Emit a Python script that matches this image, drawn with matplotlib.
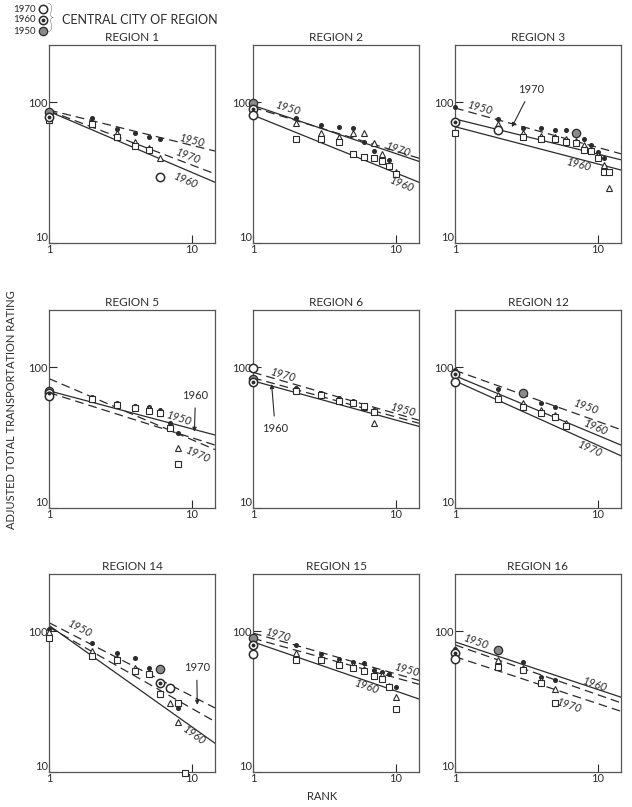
import matplotlib.pyplot as plt
import numpy as np

plt.rcParams['font.family'] = ['Lato', 'DejaVu Sans']

# ratings: one value per rank and census year (nan = no point)
r1_rank = [1, 2, 3, 4, 5, 6]
r1_1950 = [85, 77, 65, 60, 57, 55]
r1_1960 = [78, 70, 60, 52, 47, 40]
r1_1970 = [75, 70, 57, 49, 46, 29.5]
r1_fit = [[88, 45], [86, 27], [87, 31]]      # fitted line at rank 1 and at the right edge: 1950, 1960, 1970
r1_cc = [1, 1, 6]                            # rank held by the central city in 1950, 1960, 1970

r2_rank = [1, 2, 3, 4, 5, 6, 7, 8, 9, 10]
r2_1950 = [98, 77, 69, 67, 66, 52, 45, 40, 38.7, np.nan]
r2_1960 = [90, 71, 60, 57, 60, 60, 51, 43, 36, 32]
r2_1970 = [81, 55, 55, 52, 43, 41, 40, 38, 35, 31]
r2_fit = [[92, 40], [81, 27], [95, 38]]
r2_cc = [1, 1, 1]

r3_rank = [1, 2, 3, 4, 5, 6, 7, 8, 9, 10, 11, 12]
r3_1950 = [92, 76, 66, 66, 64, 64, 60, 55, 50, 44, 40, np.nan]
r3_1960 = [72, 70, 60, 58, 57, 55, 53, 50, 46, 42, 36, 24.5]
r3_1970 = [60, 63.5, 57, 55, 55, 52.5, 51, 46, 45, 40, 32, 32]
r3_fit = [[91, 43], [67, 33], [76, 39]]
r3_cc = [7, 1, 2]

r5_rank = [1, 2, 3, 4, 5, 6, 7, 8]
r5_1950 = [68, 61, 56, 53, 52, 50, 40, 34]
r5_1960 = [66, 60, 55, 52, 51, 48, 38, 26.5]
r5_1970 = [62, 59, 54, 51, 49, 47, 37, 20.6]
r5_fit = [[66, 28], [68, 33], [83, 26]]
r5_cc = [1, 1, 1]

r6_rank = [1, 2, 3, 4, 5, 6, 7]
r6_1950 = [82, 71, 66, 60, 58, 54, 50]
r6_1960 = [78, 70, 65, 59, 57, 52, 40]
r6_1970 = [98, 68, 64, 58, 56, 53, 48]
r6_fit = [[84, 40], [80, 38], [92, 42]]
r6_cc = [1, 1, 1]

r12_rank = [1, 2, 3, 4, 5, 6]
r12_1950 = [95, 70, 66, 56, 52, np.nan]
r12_1960 = [90, 64, 56, 50, 46, 40]
r12_1970 = [78, 59, 52, 47, 44, 38]
r12_fit = [[95, 36], [87, 28], [80, 23.5]]
r12_cc = [3, 1, 1]

r14_rank = [1, 2, 3, 4, 5, 6, 7, 8, 9]
r14_1950 = [104, 83, 70, 65, 55, 54, 40, 28.5, np.nan]
r14_1960 = [98, 72, 65, 55, 51, 43, 31, 22.8, np.nan]
r14_1970 = [90, 67, 62, 52, 50, 36, 39.6, 31, 9.8]
r14_fit = [[115, 28.5], [110, 16], [107, 22.8]]
r14_cc = [6, 6, 7]

r15_rank = [1, 2, 3, 4, 5, 6, 7, 8, 9, 10]
r15_1950 = [89, 80, 69, 64, 60, 59, 53, 51, 50, 40]
r15_1960 = [80, 70, 64, 60, 58, 54, 50, 49, 41, 34]
r15_1970 = [69, 62, 62, 58, 55, 52, 48, 46, 40, 28]
r15_fit = [[89, 42], [84, 33], [97, 44.7]]
r15_cc = [1, 1, 1]

r16_rank = [1, 2, 3, 4, 5]
r16_1950 = [75, 73, 60, 47, 45]
r16_1960 = [70, 62, 55, 45, 39]
r16_1970 = [64, 56, 53, 43, 31]
r16_fit = [[80, 31], [84, 34], [66, 27]]
r16_cc = [2, 1, 1]

years = ['1950', '1960', '1970']
titles = ['REGION 1', 'REGION 2', 'REGION 3', 'REGION 5', 'REGION 6',
          'REGION 12', 'REGION 14', 'REGION 15', 'REGION 16']

# where the year labels sit on each panel (x, y); arrow labels also give the arrow tip
r1_lab = [('1950', 10, 53), ('1970', 9.4, 41.6), ('1960', 9.1, 27.5)]
r2_lab = [('1950', 1.76, 90), ('1970', 10.4, 45.6), ('1960', 11.0, 26)]
r3_lab = [('1950', 1.5, 91), ('1960', 7.4, 35.8), ('1970', 3.4, 123, 2.5, 66.6)]
r5_lab = [('1950', 8.1, 43), ('1970', 11, 23.8), ('1960', 10.6, 63, 10.4, 34.8)]
r6_lab = [('1970', 1.63, 88), ('1950', 11.3, 49.5), ('1960', 1.43, 36.7, 1.35, 76)]
r12_lab = [('1950', 8.3, 51.8), ('1960', 9.7, 37), ('1970', 8.8, 26)]
r14_lab = [('1950', 1.66, 104), ('1960', 10.3, 18.3), ('1970', 10.8, 55, 10.9, 30)]
r15_lab = [('1970', 1.5, 94), ('1950', 12.1, 52.7), ('1960', 6.3, 40)]
r16_lab = [('1950', 1.42, 84), ('1960', 9.5, 42), ('1970', 6.3, 29.6)]

regions = [
    (r1_rank, [r1_1950, r1_1960, r1_1970], r1_fit, r1_cc, r1_lab),
    (r2_rank, [r2_1950, r2_1960, r2_1970], r2_fit, r2_cc, r2_lab),
    (r3_rank, [r3_1950, r3_1960, r3_1970], r3_fit, r3_cc, r3_lab),
    (r5_rank, [r5_1950, r5_1960, r5_1970], r5_fit, r5_cc, r5_lab),
    (r6_rank, [r6_1950, r6_1960, r6_1970], r6_fit, r6_cc, r6_lab),
    (r12_rank, [r12_1950, r12_1960, r12_1970], r12_fit, r12_cc, r12_lab),
    (r14_rank, [r14_1950, r14_1960, r14_1970], r14_fit, r14_cc, r14_lab),
    (r15_rank, [r15_1950, r15_1960, r15_1970], r15_fit, r15_cc, r15_lab),
    (r16_rank, [r16_1950, r16_1960, r16_1970], r16_fit, r16_cc, r16_lab),
]

ink = '#2b2b2b'
XMAX = 14.5
YMAX = 255
dash = (0, (7, 4))
line_style = {'1950': dash, '1960': '-', '1970': dash}
solid_1970 = ['REGION 2', 'REGION 3', 'REGION 12']
point_style = {
    '1950': dict(marker='o', ms=2.6, mfc=ink, mec=ink),
    '1960': dict(marker='^', ms=4.5, mfc='white', mec=ink, mew=0.8),
    '1970': dict(marker='s', ms=4, mfc='white', mec=ink, mew=0.8),
}


def central_city(ax, x, y, year):
    if year == '1950':
        ax.plot(x, y, 'o', ms=6, mfc='#8a8a8a', mec=ink, mew=0.9, clip_on=False, zorder=4)
    else:
        ax.plot(x, y, 'o', ms=6, mfc='white', mec=ink, mew=1.1, clip_on=False, zorder=4)
        if year == '1960':
            ax.plot(x, y, 'o', ms=1.8, color=ink, clip_on=False, zorder=5)


fig = plt.figure(figsize=(6.32, 8.07), dpi=100)
lefts = [49, 253, 455]
tops = [45, 310, 574]
W, H = 166, 198

for i, (rank, vals, fit, cc, labs) in enumerate(regions):
    row, col = divmod(i, 3)
    ax = fig.add_axes([lefts[col] / 632, 1 - (tops[row] + H) / 807, W / 632, H / 807])
    ax.set_xscale('log')
    ax.set_yscale('log')
    ax.set_xlim(1, XMAX)
    ax.set_ylim(10, YMAX)

    for k, yr in enumerate(years):
        ls = line_style[yr]
        if yr == '1970' and titles[i] in solid_1970:
            ls = '-'
        ax.plot([1, XMAX], fit[k], ls=ls, color=ink, lw=0.9)
        for r, v in zip(rank, vals[k]):
            if np.isnan(v):
                continue
            if r == cc[k]:
                central_city(ax, r, v, yr)
            else:
                ax.plot(r, v, ls='none', clip_on=False, zorder=3, **point_style[yr])

    for lab in labs:
        yr = lab[0]
        if len(lab) == 5:
            ax.annotate(yr, xy=(lab[3], lab[4]), xytext=(lab[1], lab[2]), ha='center', va='center',
                        fontsize=8, color=ink,
                        arrowprops=dict(arrowstyle='-|>', color=ink, lw=0.8, mutation_scale=6,
                                        shrinkA=3, shrinkB=0))
        else:
            k = years.index(yr)
            p0 = ax.transData.transform((1, fit[k][0]))
            p1 = ax.transData.transform((XMAX, fit[k][1]))
            ang = np.degrees(np.arctan2(p1[1] - p0[1], p1[0] - p0[0]))
            ax.text(lab[1], lab[2], yr, ha='center', va='center', fontsize=8, color=ink,
                    style='italic', rotation=ang, rotation_mode='anchor')

    ax.set_xticks([1, 10])
    ax.set_xticklabels(['1', '10'])
    ax.set_yticks([10, 100])
    ax.set_yticklabels(['10', '100'])
    ax.minorticks_off()
    ax.tick_params(direction='in', length=6, width=0.8, color=ink, labelsize=8,
                   labelcolor=ink, pad=1)
    ax.get_yticklabels()[0].set_va('bottom')
    for s in ax.spines.values():
        s.set_color('#555555')
        s.set_linewidth(0.9)
    ax.set_title(titles[i], fontsize=8.5, color=ink, pad=3)

# key for the central-city symbols, top left
lg = fig.add_axes([0, 1 - 40 / 807, 0.6, 40 / 807])
lg.set_xlim(0, 379)
lg.set_ylim(40, 0)
lg.axis('off')
for yr, yy in zip(['1970', '1960', '1950'], [9, 20, 31]):
    lg.text(36, yy, yr, ha='right', va='center', fontsize=7, color=ink)
    central_city(lg, 43, yy, yr)
lg.text(50, 20, '}', ha='center', va='center', fontsize=22, color=ink, fontweight='light')
lg.text(62, 20, 'CENTRAL CITY OF REGION', ha='left', va='center', fontsize=9, color=ink)

fig.text(12 / 632, 1 - 410 / 807, 'ADJUSTED TOTAL TRANSPORTATION RATING', rotation=90,
         ha='center', va='center', fontsize=8, color=ink)
fig.text(322 / 632, 1 - 796 / 807, 'RANK', ha='center', va='center', fontsize=8, color=ink)

fig.savefig('out.png', dpi=100)
